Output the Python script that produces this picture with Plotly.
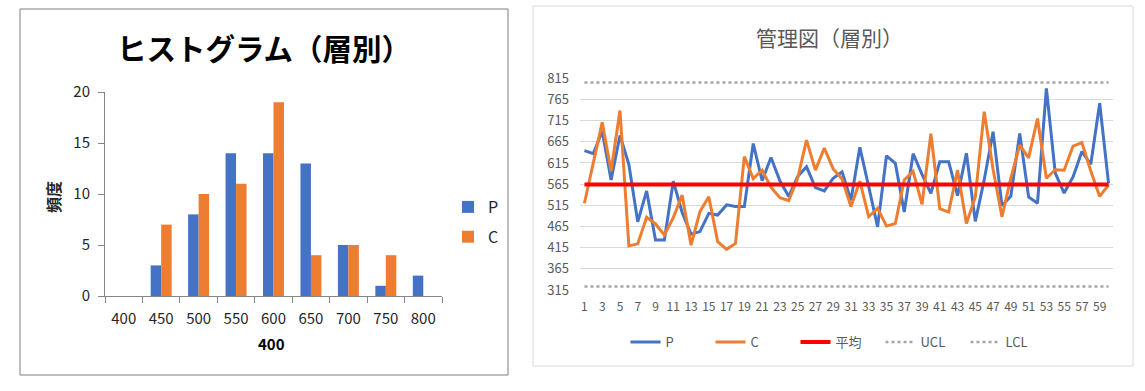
import plotly.graph_objects as go

# ---------------- data ----------------
BINS = ["400", "450", "500", "550", "600", "650", "700", "750", "800"]
P_FREQ = [0, 3, 8, 14, 14, 13, 5, 1, 2]
C_FREQ = [0, 7, 10, 11, 19, 4, 5, 4, 0]

SAMPLE_NO = list(range(1, 61))
P_VALUES = [644, 637, 690, 575, 680, 612, 476, 549, 433, 433,
            572, 498, 447, 453, 496, 492, 516, 512, 512, 661,
            573, 628, 573, 536, 583, 606, 557, 549, 579, 594,
            527, 652, 559, 464, 632, 614, 499, 637, 588, 543,
            618, 618, 538, 638, 477, 575, 689, 514, 537, 685,
            535, 520, 791, 591, 544, 582, 642, 612, 756, 567]
C_VALUES = [520, 615, 711, 596, 739, 419, 424, 487, 471, 445,
            486, 539, 421, 500, 535, 429, 411, 425, 630, 578,
            598, 558, 533, 526, 579, 669, 598, 650, 601, 577,
            512, 572, 488, 508, 466, 472, 575, 595, 517, 684,
            507, 499, 598, 472, 535, 736, 600, 488, 579, 657,
            627, 720, 579, 599, 598, 655, 663, 596, 536, 563]
MEAN = 564
UCL = 805
LCL = 323
Y_TICKS = [315, 365, 415, 465, 515, 565, 615, 665, 715, 765, 815]
X_TICKS = list(range(1, 60, 2))

# ---------------- geometry helpers ----------------
W, H = 1145, 391
def px(x):
    return x / W
def py(y):
    return 1 - y / H

BLUE = "#4472C4"
ORANGE = "#ED7D31"
FONT = "Noto Sans CJK JP"

fig = go.Figure()

# ---------- histogram ----------
fig.add_trace(go.Bar(x=BINS, y=P_FREQ, name="P", marker_color=BLUE,
                     xaxis="x", yaxis="y", legend="legend", legendgroup="p"))
fig.add_trace(go.Bar(x=BINS, y=C_FREQ, name="C", marker_color=ORANGE,
                     xaxis="x", yaxis="y", legend="legend", legendgroup="c"))

# ---------- control chart ----------
fig.add_trace(go.Scatter(x=SAMPLE_NO, y=P_VALUES, name="P", mode="lines",
                         line=dict(color=BLUE, width=3),
                         xaxis="x2", yaxis="y2", legend="legend2"))
fig.add_trace(go.Scatter(x=SAMPLE_NO, y=C_VALUES, name="C", mode="lines",
                         line=dict(color=ORANGE, width=3),
                         xaxis="x2", yaxis="y2", legend="legend2"))
fig.add_trace(go.Scatter(x=SAMPLE_NO, y=[MEAN] * len(SAMPLE_NO), name="平均", mode="lines",
                         line=dict(color="#FF0000", width=4),
                         xaxis="x2", yaxis="y2", legend="legend2"))
fig.add_trace(go.Scatter(x=SAMPLE_NO, y=[UCL] * len(SAMPLE_NO), name="UCL", mode="lines",
                         line=dict(color="#A5A5A5", width=2.5, dash="dot"),
                         xaxis="x2", yaxis="y2", legend="legend2"))
fig.add_trace(go.Scatter(x=SAMPLE_NO, y=[LCL] * len(SAMPLE_NO), name="LCL", mode="lines",
                         line=dict(color="#A5A5A5", width=2.5, dash="dot"),
                         xaxis="x2", yaxis="y2", legend="legend2"))

fig.update_layout(
    template="none",
    width=W, height=H, autosize=False,
    margin=dict(l=0, r=0, t=0, b=0, pad=0, autoexpand=False),
    paper_bgcolor="white", plot_bgcolor="white",
    font=dict(family=FONT, color="#262626"),
    barmode="group", bargap=0.44, bargroupgap=0,
    xaxis=dict(domain=[px(105), px(442)], anchor="y", type="category", automargin=False,
               showline=True, linecolor="#868686", linewidth=1,
               ticks="outside", tickson="boundaries", ticklen=6, tickcolor="#868686",
               ticklabelstandoff=9,
               tickfont=dict(size=15, color="#262626"), showgrid=False, fixedrange=True),
    yaxis=dict(domain=[py(296), py(92)], anchor="x", range=[0, 20], dtick=5, automargin=False,
               showline=True, linecolor="#868686", linewidth=1,
               ticks="outside", ticklen=6, tickcolor="#868686", ticklabelstandoff=5,
               tickfont=dict(size=15, color="#262626"), showgrid=False, zeroline=False),
    xaxis2=dict(domain=[px(580), px(1113)], anchor="y2", range=[0.5, 60.5], automargin=False,
                tickvals=X_TICKS, ticktext=[str(v) for v in X_TICKS],
                tickfont=dict(size=12, color="#595959"), showgrid=False,
                showline=False, zeroline=False, ticks="", ticklabelstandoff=8),
    yaxis2=dict(domain=[py(290), py(78.3)], anchor="x2", range=[315, 815], automargin=False,
                tickvals=Y_TICKS, showgrid=True, gridcolor="#D9D9D9", gridwidth=1,
                tickfont=dict(size=13, color="#595959"), zeroline=False, showline=False,
                ticks="", ticklabelstandoff=10),
    legend=dict(x=px(448), y=py(190), xanchor="left", yanchor="top",
                orientation="v", font=dict(size=16, color="#262626"),
                tracegroupgap=6, bgcolor="rgba(0,0,0,0)", borderwidth=0),
    legend2=dict(x=px(838), y=py(342), xanchor="center", yanchor="middle",
                 orientation="h", font=dict(size=13, color="#595959"),
                 entrywidth=40, entrywidthmode="pixels",
                 bgcolor="rgba(0,0,0,0)", borderwidth=0),
    showlegend=True,
    shapes=[
        dict(type="rect", xref="paper", yref="paper",
             x0=px(20), x1=px(508), y0=py(375), y1=py(9),
             line=dict(color="#7F7F7F", width=1), fillcolor="rgba(0,0,0,0)", layer="below"),
        dict(type="rect", xref="paper", yref="paper",
             x0=px(533), x1=px(1133), y0=py(366), y1=py(6),
             line=dict(color="#D9D9D9", width=1), fillcolor="rgba(0,0,0,0)", layer="below"),
    ],
    annotations=[
        dict(text="<b>ヒストグラム（層別）</b>", xref="paper", yref="paper",
             x=px(264), y=py(47), xanchor="center", yanchor="middle", showarrow=False,
             font=dict(size=29.5, color="#000000", family=FONT)),
        dict(text="<b>頻度</b>", xref="paper", yref="paper", textangle=-90,
             x=px(53), y=py(197), xanchor="center", yanchor="middle", showarrow=False,
             font=dict(size=16, color="#262626", family=FONT)),
        dict(text="<b>400</b>", xref="paper", yref="paper",
             x=px(271), y=py(343), xanchor="center", yanchor="middle", showarrow=False,
             font=dict(size=15, color="#000000", family=FONT)),
        dict(text="管理図（層別）", xref="paper", yref="paper",
             x=px(829), y=py(37), xanchor="center", yanchor="middle", showarrow=False,
             font=dict(size=21, color="#595959", family=FONT)),
    ],
)

fig.write_html("out.html", config={"displayModeBar": False},
               post_script="document.body.style.margin='0';document.body.style.overflow='hidden';")
